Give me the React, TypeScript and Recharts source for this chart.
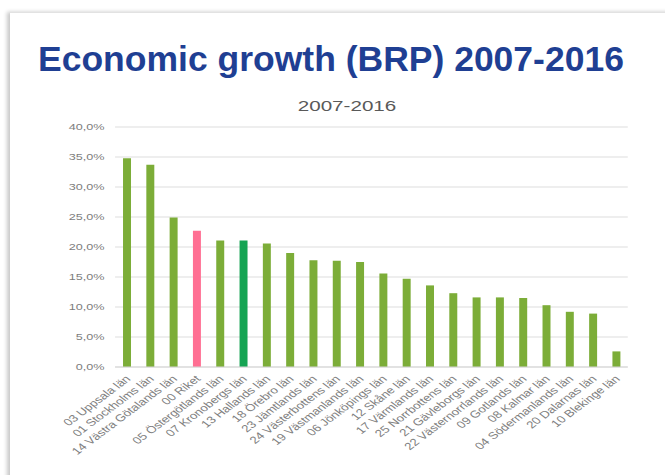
import React from 'react';
import { BarChart, Bar, Cell, XAxis, YAxis, CartesianGrid } from 'recharts';

// Economic growth (BRP) 2007-2016 per county, sorted descending
const counties = [
  '03 Uppsala län',
  '01 Stockholms län',
  '14 Västra Götalands län',
  '00 Riket',
  '05 Östergötlands län',
  '07 Kronobergs län',
  '13 Hallands län',
  '18 Örebro län',
  '23 Jämtlands län',
  '24 Västerbottens län',
  '19 Västmanlands län',
  '06 Jönköpings län',
  '12 Skåne län',
  '17 Värmlands län',
  '25 Norrbottens län',
  '21 Gävleborgs län',
  '22 Västernorrlands län',
  '09 Gotlands län',
  '08 Kalmar län',
  '04 Södermanlands län',
  '20 Dalarnas län',
  '10 Blekinge län',
];

const growth = [
  34.8, 33.7, 24.9, 22.7, 21.1, 21.1, 20.6, 19.0, 17.8, 17.7, 17.5,
  15.6, 14.7, 13.6, 12.3, 11.6, 11.6, 11.5, 10.3, 9.2, 8.9, 2.6,
];

const yTicks = [0, 5, 10, 15, 20, 25, 30, 35, 40];

const data = counties.map((name, i) => ({ name, value: growth[i] }));

// the chart in the slide is a picture stretched sideways
const STRETCH = 1.33;
const FONT = "'Liberation Sans', Arial, sans-serif";

const barColor = (name: string) => {
  if (name === '00 Riket') return '#ff6f93';
  if (name === '07 Kronobergs län') return '#15a453';
  return '#7cad38';
};

const fmtPct = (v: number) => `${v.toFixed(1).replace('.', ',')}%`;

function CountyTick({ x, y, payload }: any) {
  return (
    <g transform={`translate(${x + 1},${y + 2})`}>
      <text
        transform="rotate(-45)"
        textAnchor="end"
        dy="0.35em"
        fontSize={10}
        fill="#808080"
        fontFamily={FONT}
      >
        {payload.value}
      </text>
    </g>
  );
}

export default function App() {
  return (
    <div
      style={{
        position: 'absolute',
        left: 0,
        top: 0,
        width: 665,
        height: 475,
        background: '#fff',
        overflow: 'hidden',
        fontFamily: FONT,
      }}
    >
      {/* slide card */}
      <div
        style={{
          position: 'absolute',
          left: 10,
          top: 12,
          width: 700,
          height: 520,
          background: '#fff',
          borderTop: '1px solid #e2e2e2',
          boxShadow: '-3px 0 4px rgba(0,0,0,0.22)',
        }}
      />
      <div
        style={{
          position: 'absolute',
          left: 38,
          top: 42,
          fontSize: 35.5,
          lineHeight: 1,
          fontWeight: 700,
          color: '#1f3f93',
          whiteSpace: 'nowrap',
        }}
      >
        Economic growth (BRP) 2007-2016
      </div>
      <div
        style={{
          position: 'absolute',
          left: 247,
          top: 98,
          width: 200,
          textAlign: 'center',
          fontSize: 15.5,
          lineHeight: 1,
          color: '#595959',
          transform: `scaleX(${STRETCH})`,
          transformOrigin: '50% 0',
        }}
      >
        2007-2016
      </div>
      <div
        style={{
          position: 'absolute',
          left: 0,
          top: 115,
          transform: `scaleX(${STRETCH})`,
          transformOrigin: '0 0',
        }}
      >
        <BarChart
          width={480}
          height={352}
          data={data}
          margin={{ top: 12, right: 8, left: 0, bottom: 0 }}
          barCategoryGap={0}
        >
          <CartesianGrid vertical={false} stroke="#dedede" />
          <XAxis
            dataKey="name"
            interval={0}
            height={100}
            tick={<CountyTick />}
            tickLine={false}
            axisLine={{ stroke: '#d6d6d6' }}
          />
          <YAxis
            width={86.5}
            domain={[0, 40]}
            ticks={yTicks}
            tickFormatter={fmtPct}
            tick={{ fontSize: 9.5, fill: '#7d7d7d', fontFamily: FONT }}
            tickLine={false}
            axisLine={false}
          />
          <Bar dataKey="value" barSize={6} isAnimationActive={false}>
            {data.map((d) => (
              <Cell key={d.name} fill={barColor(d.name)} />
            ))}
          </Bar>
        </BarChart>
      </div>
    </div>
  );
}
